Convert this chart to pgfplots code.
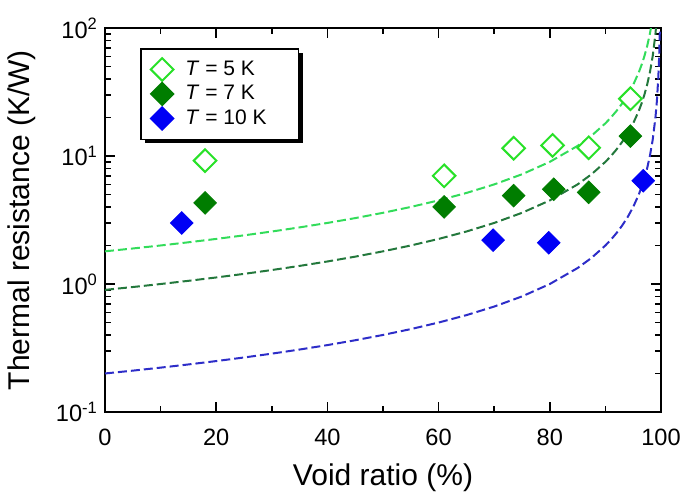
\documentclass[border=0pt]{standalone}
\usepackage{fontspec}
\setmainfont{Liberation Sans}
\usepackage{pgfplots}
\pgfplotsset{compat=1.18}
\usetikzlibrary{shadows}
\definecolor{lgreen}{RGB}{40,225,40}
\definecolor{lgcurve}{RGB}{50,220,90}
\definecolor{dgreen}{RGB}{0,125,0}
\definecolor{dgcurve}{RGB}{35,120,60}
\definecolor{bluept}{RGB}{0,0,245}
\definecolor{bluecurve}{RGB}{45,45,200}
\begin{document}
\begin{tikzpicture}
\begin{axis}[
  name=main,
  scale only axis, width=278pt, height=192pt,
  xmin=0, xmax=100, ymode=log, ymin=0.1, ymax=100,
  xtick={0,20,40,60,80,100}, minor xtick={10,30,50,70,90},
  ytick={0.1,1,10,100},
  yticklabels={10\textsuperscript{-1},10\textsuperscript{0},10\textsuperscript{1},10\textsuperscript{2}},
  /pgf/number format/assume math mode=true,
  tick align=inside, major tick length=5pt, minor tick length=3pt,
  axis line style={line width=1pt}, every tick/.style={line width=0.8pt, black},
  tick label style={font=\fontsize{11.8}{13}\selectfont},
  xticklabel style={yshift=-5pt},
  xlabel={Void ratio (\%)}, ylabel={Thermal resistance (K/W)},
  label style={font=\fontsize{15}{17}\selectfont},
  xlabel style={at={(axis description cs:0.5,-0.172)}, anchor=center},
  ylabel style={at={(axis description cs:-0.149,0.5)}, anchor=center},
  legend style={at={(axis description cs:0.063,0.948)}, anchor=north west,
    draw=black, line width=0.8pt, fill=white, font=\fontsize{10.5}{11}\selectfont,
    drop shadow={shadow xshift=2pt, shadow yshift=-2pt, opacity=1, fill=black},
    row sep=-0.5pt, inner xsep=5pt, inner ysep=4pt,
    /tikz/every odd column/.append style={column sep=4pt}},
  legend cell align=left,
  clip=true,
]
% model curves
\addplot[lgcurve, dashed, line width=1pt, dash pattern=on 4.5pt off 2pt, forget plot] coordinates {
(0,1.8)(5,1.895)(10,2.0)(15,2.118)(20,2.25)(25,2.4)(30,2.571)(35,2.769)(40,3.0)(45,3.273)(50,3.6)(55,4.0)(60,4.5)(65,5.143)(70,6.0)(75,7.2)(80,9.0)(85,12.0)(87.5,14.4)(90,18.0)(91,20.0)(92,22.5)(93,25.71)(94,30.0)(95,36.0)(96,45.0)(96.5,51.43)(97,60.0)(97.5,72.0)(98,90.0)(98.5,120.0)(99,180.0)};
\addplot[dgcurve, dashed, line width=1pt, dash pattern=on 4.5pt off 2pt, forget plot] coordinates {
(0,0.9)(5,0.947)(10,1.0)(15,1.059)(20,1.125)(25,1.2)(30,1.286)(35,1.385)(40,1.5)(45,1.636)(50,1.8)(55,2.0)(60,2.25)(65,2.571)(70,3.0)(75,3.6)(80,4.5)(85,6.0)(87.5,7.2)(90,9.0)(91,10.0)(92,11.25)(93,12.86)(94,15.0)(95,18.0)(96,22.5)(96.5,25.71)(97,30.0)(97.5,36.0)(98,45.0)(98.5,60.0)(99,90.0)(99.25,120.0)(99.5,180.0)};
\addplot[bluecurve, dashed, line width=1pt, dash pattern=on 4.5pt off 2pt, forget plot] coordinates {
(0,0.2)(5,0.2105)(10,0.2222)(15,0.2353)(20,0.25)(25,0.2667)(30,0.2857)(35,0.3077)(40,0.3333)(45,0.3636)(50,0.4)(55,0.4444)(60,0.5)(65,0.5714)(70,0.6667)(75,0.8)(80,1.0)(85,1.333)(87.5,1.6)(90,2.0)(91,2.222)(92,2.5)(93,2.857)(94,3.333)(95,4.0)(96,5.0)(96.5,5.714)(97,6.667)(97.5,8.0)(98,10.0)(98.5,13.33)(99,20.0)(99.25,26.67)(99.5,40.0)(99.6,50.0)(99.7,66.67)(99.8,100.0)(99.9,200.0)};
% data
\addplot[only marks, mark=square*, mark options={rotate=45, draw=lgreen, fill=white, line width=1pt}, mark size=4pt] coordinates {
(18,9.2)(61,7.0)(73.5,11.5)(80.5,12.1)(87,11.6)(94.5,28.0)};
\addlegendentry{\textit{T} = 5 K}
\addplot[only marks, mark=square*, mark options={rotate=45, draw=dgreen, fill=dgreen}, mark size=4pt] coordinates {
(18,4.3)(61,4.0)(73.5,4.9)(80.7,5.5)(87,5.2)(94.5,14.3)};
\addlegendentry{\textit{T} = 7 K}
\addplot[only marks, mark=square*, mark options={rotate=45, draw=bluept, fill=bluept}, mark size=4pt] coordinates {
(13.8,3.0)(69.8,2.2)(79.8,2.1)(96.8,6.4)};
\addlegendentry{\textit{T} = 10 K\rule{9pt}{0pt}}
\end{axis}
\pgfresetboundingbox
\path (main.south west) ++(-52.5pt,-41pt) coordinate (bbA);
\path (main.north east) ++(11pt,14pt) coordinate (bbB);
\useasboundingbox (bbA) rectangle (bbB);
\end{tikzpicture}
\end{document}
